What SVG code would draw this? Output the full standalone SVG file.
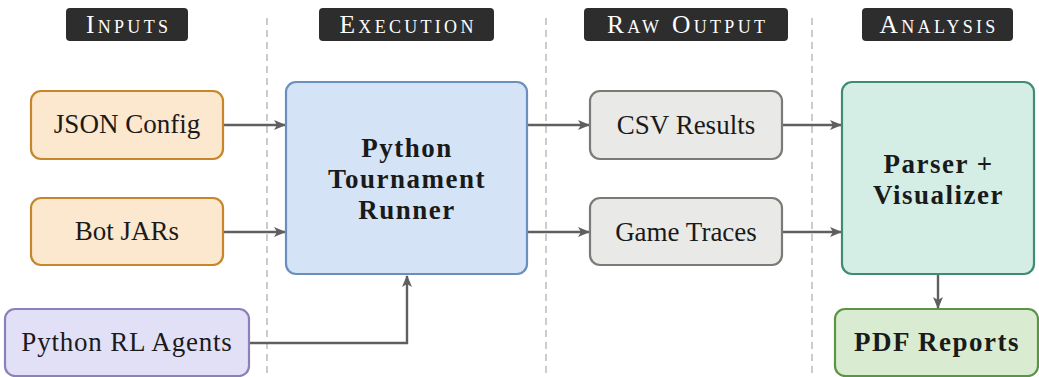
<svg xmlns="http://www.w3.org/2000/svg" width="1039" height="377" viewBox="0 0 1039 377">
<style>
.hdr{fill:#2d2d2d}
.htxt{fill:#fff;font-size:25.5px;font-variant:small-caps;letter-spacing:3.3px;text-anchor:middle}
.sep{stroke:#aaaaaa;stroke-width:1.2;stroke-dasharray:7,5}
.lbl{font-size:27px;fill:#1a1a1a;text-anchor:middle}
.bold{font-weight:bold;letter-spacing:1.5px}
.orange{fill:#fbe8cf;stroke:#c8862a;stroke-width:2.2}
.blue{fill:#d4e4f6;stroke:#6a8fbf;stroke-width:2.2}
.gray{fill:#e9e9e7;stroke:#7a7a76;stroke-width:2.2}
.teal{fill:#d4eee6;stroke:#3f8c72;stroke-width:2.2}
.green{fill:#d9ecd2;stroke:#5a9444;stroke-width:2.2}
.purple{fill:#e2e0f7;stroke:#8b80b8;stroke-width:2.2}
.c{fill:none;stroke:#5f5f5f;stroke-width:2.4;marker-end:url(#ah)}
</style>
<defs>
<marker id="ah" viewBox="0 0 12 10" refX="11" refY="5" markerWidth="12" markerHeight="10" markerUnits="userSpaceOnUse" orient="auto">
<path d="M0,0 L12,5 L0,10 L3,5 Z" fill="#5f5f5f"/>
</marker>
</defs>
<rect width="1039" height="377" fill="#fff"/>
<g id="headers" font-family="Liberation Serif, serif">
<rect class="hdr" x="66" y="8" width="122" height="33" rx="4"/>
<text class="htxt" x="128.6" y="32.5">Inputs</text>
<rect class="hdr" x="319" y="8" width="175" height="33" rx="4"/>
<text class="htxt" x="408.1" y="32.5">Execution</text>
<rect class="hdr" x="584" y="8" width="204" height="33" rx="4"/>
<text class="htxt" x="687.6" y="32.5">Raw Output</text>
<rect class="hdr" x="862" y="8" width="151" height="33" rx="4"/>
<text class="htxt" x="939.1" y="32.5">Analysis</text>
</g>
<g id="separators">
<line class="sep" x1="267" y1="18" x2="267" y2="377"/>
<line class="sep" x1="546" y1="18" x2="546" y2="377"/>
<line class="sep" x1="812" y1="18" x2="812" y2="377"/>
</g>
<g id="connectors">
<path class="c" d="M223,125 H285"/>
<path class="c" d="M223,232 H285"/>
<path class="c" d="M249,343 H407 V276"/>
<path class="c" d="M527,125 H589"/>
<path class="c" d="M527,232 H589"/>
<path class="c" d="M782,125 H841"/>
<path class="c" d="M782,232 H841"/>
<path class="c" d="M938,274 V308"/>
</g>
<g id="nodes" font-family="Liberation Serif, serif">
<g id="json-config">
<rect class="orange" x="31" y="91" width="192" height="68" rx="10"/>
<text class="lbl" x="127" y="133">JSON Config</text>
</g>
<g id="bot-jars">
<rect class="orange" x="31" y="198" width="192" height="67" rx="10"/>
<text class="lbl" x="127" y="240">Bot JARs</text>
</g>
<g id="python-rl-agents">
<rect class="purple" x="5" y="309" width="244" height="67" rx="10"/>
<text class="lbl" x="127" y="351" letter-spacing="0.8">Python RL Agents</text>
</g>
<g id="tournament-runner">
<rect class="blue" x="286" y="82" width="241" height="192" rx="10"/>
<text class="lbl bold" x="407" y="157">Python</text>
<text class="lbl bold" x="407" y="188">Tournament</text>
<text class="lbl bold" x="407" y="219">Runner</text>
</g>
<g id="csv-results">
<rect class="gray" x="590" y="91" width="192" height="68" rx="10"/>
<text class="lbl" x="686" y="134">CSV Results</text>
</g>
<g id="game-traces">
<rect class="gray" x="590" y="198" width="192" height="67" rx="10"/>
<text class="lbl" x="686" y="241">Game Traces</text>
</g>
<g id="parser-visualizer">
<rect class="teal" x="842" y="82" width="192" height="192" rx="10"/>
<text class="lbl bold" x="938.5" y="173">Parser +</text>
<text class="lbl bold" x="938.5" y="204">Visualizer</text>
</g>
<g id="pdf-reports">
<rect class="green" x="835" y="309" width="203" height="67" rx="10"/>
<text class="lbl bold" x="937" y="351">PDF Reports</text>
</g>
</g>
</svg>
